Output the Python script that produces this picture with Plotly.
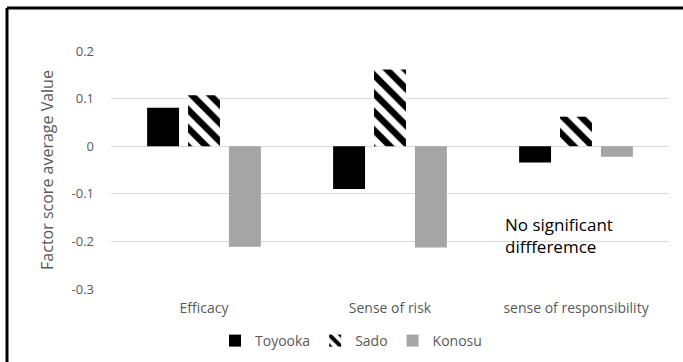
import plotly.graph_objects as go

# Data
categories = ["Efficacy", "Sense of risk", "sense of responsibility"]
toyooka = [0.081, -0.090, -0.034]
sado = [0.107, 0.161, 0.062]
konosu = [-0.211, -0.213, -0.022]
y_ticks = [0.2, 0.1, 0, -0.1, -0.2, -0.3]
note_text = "No significant<br>diffferemce"

W, H = 683, 362
ML, MR, MT, MB = 111, 14, 51, 73
PW, PH = W - ML - MR, H - MT - MB


def px_x(px):
    return (px - ML) / PW


def px_y(py):
    return (H - MB - py) / PH


FONT = "Open Sans"
GREY = "#595959"

fig = go.Figure()
fig.add_bar(name="Toyooka", x=categories, y=toyooka,
            marker=dict(color="black", line=dict(width=0)))
fig.add_bar(name="Sado", x=categories, y=sado,
            marker=dict(color="white", line=dict(width=0),
                        pattern=dict(shape="\\", fgcolor="black", bgcolor="white",
                                     fgopacity=1, size=13, solidity=0.5)))
fig.add_bar(name="Konosu", x=categories, y=konosu,
            marker=dict(color="#a5a5a5", line=dict(width=0)))

fig.update_layout(
    width=W, height=H,
    margin=dict(l=ML, r=MR, t=MT, b=MB, autoexpand=False),
    paper_bgcolor="white", plot_bgcolor="white",
    barmode="group", bargap=0.34, bargroupgap=0.22,
    font=dict(family=FONT, color=GREY, size=12),
    showlegend=True,
    legend=dict(orientation="h", x=px_x(351), xanchor="center",
                yref="container", y=(H - 341) / H, yanchor="middle",
                font=dict(size=14, color=GREY), itemwidth=30,
                entrywidth=0, traceorder="normal"),
    xaxis=dict(showgrid=False, showline=False, ticks="", automargin=False,
               tickfont=dict(size=14, color=GREY), ticklabelstandoff=9),
    yaxis=dict(range=[-0.3, 0.2], tickvals=y_ticks,
               ticktext=[("%g" % v) for v in y_ticks], automargin=False,
               showgrid=True, gridcolor="#d9d9d9", gridwidth=1,
               zeroline=True, zerolinecolor="#d9d9d9", zerolinewidth=1,
               showline=False, ticks="",
               tickfont=dict(size=13, color=GREY), ticklabelstandoff=16,
               title=dict(text="Factor score average Value",
                          font=dict(size=16, color=GREY), standoff=13)),
)

fig.add_annotation(text=note_text, xref="paper", yref="paper",
                   x=px_x(503), y=px_y(235), xanchor="left", yanchor="middle",
                   align="left", showarrow=False,
                   font=dict(size=17, color="black", family=FONT))

# chart frame (top and left edges)
fig.add_shape(type="line", xref="paper", yref="paper",
              x0=px_x(7), x1=px_x(700), y0=px_y(8), y1=px_y(8),
              line=dict(color="black", width=3))
fig.add_shape(type="line", xref="paper", yref="paper",
              x0=px_x(7), x1=px_x(7), y0=px_y(8), y1=px_y(380),
              line=dict(color="black", width=3))

fig.write_html("out.html")
